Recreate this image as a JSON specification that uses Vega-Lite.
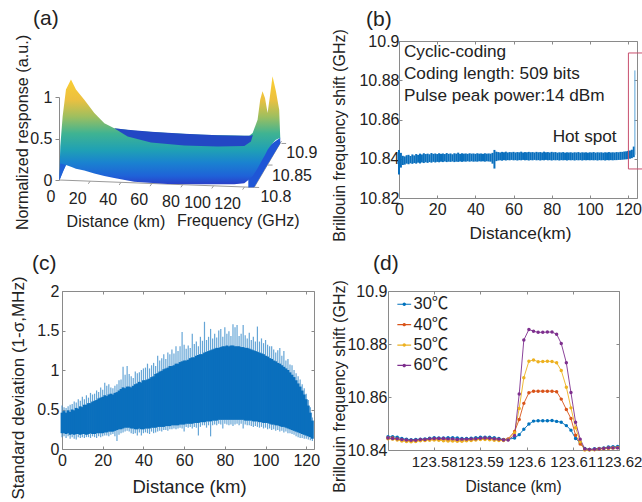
{
"$schema":"https://vega.github.io/schema/vega-lite/v6.json",
"padding":{"left":8,"top":8,"right":0,"bottom":0},
"background":"white",
"bounds":"flush",
"spacing":250,
"config":{"font":"Liberation Sans","view":{"stroke":"#8a8a8a","strokeWidth":1},
"axis":{"grid":false,"labelColor":"#222","titleColor":"#222","domainColor":"#8a8a8a","tickColor":"#8a8a8a","titleFontWeight":"normal","labelFontSize":16,"titleFontSize":16,"labelOverlap":false,"labelFlush":false,"labelBound":false,"tickSize":-3,"domain":false},
"title":{"fontWeight":"normal","fontSize":21,"color":"#222","anchor":"start","frame":"group"},
"text":{"color":"#222"}},
"datasets":{
"front":[{"u":0,"hi":0,"lo":0},{"u":0.65,"hi":0.403,"lo":0.02},{"u":2.16,"hi":0.766,"lo":0.1},{"u":4.32,"hi":1.089,"lo":0.181},{"u":7.56,"hi":1.21,"lo":0.161},{"u":10.8,"hi":1.089,"lo":0.137},{"u":16.2,"hi":0.968,"lo":0.113},{"u":22.7,"hi":0.806,"lo":0.077},{"u":29.2,"hi":0.685,"lo":0.048},{"u":35.6,"hi":0.625,"lo":0.024},{"u":48.6,"hi":0.593,"lo":-0.02},{"u":70.2,"hi":0.565,"lo":-0.048},{"u":91.8,"hi":0.544,"lo":-0.052},{"u":113.4,"hi":0.536,"lo":-0.052},{"u":119.9,"hi":0.532,"lo":-0.04},{"u":123.1,"hi":0.532,"lo":0.008},{"u":125.3,"hi":0.565,"lo":0.048},{"u":128.5,"hi":0.726,"lo":0.141},{"u":130.2,"hi":0.968,"lo":0.2},{"u":131.7,"hi":1.069,"lo":0.25},{"u":133.3,"hi":0.988,"lo":0.302},{"u":135,"hi":0.806,"lo":0.363},{"u":136.5,"hi":1.008,"lo":0.403},{"u":138.2,"hi":1.25,"lo":0.444},{"u":140.4,"hi":1.069,"lo":0.484},{"u":142.5,"hi":0.847,"lo":0.504},{"u":143.2,"hi":0.504,"lo":0.504}],
"ribbon":[{"u":35.6,"hi":0.625,"lo":0.625},{"u":44.3,"hi":0.605,"lo":0.524},{"u":59.4,"hi":0.581,"lo":0.452},{"u":81,"hi":0.556,"lo":0.415},{"u":102.6,"hi":0.54,"lo":0.403},{"u":119.9,"hi":0.532,"lo":0.411},{"u":124.2,"hi":0.532,"lo":0.464},{"u":125.3,"hi":0.544,"lo":0.532}],
"slab":[{"u":122.5,"hi":0.04,"lo":-0.089},{"u":126.3,"hi":0.1,"lo":-0.0887},{"u":135,"hi":0.4,"lo":0.186},{"u":143.2,"hi":0.51,"lo":0.44}],
"side":[{"u":0,"hi":0,"lo":0},{"u":0.65,"hi":0.2,"lo":0.02},{"u":4.32,"hi":0.181,"lo":0.181}],
"alines":[{"u":0,"u2":126.3,"v":0,"v2":-0.0887},{"u":126.3,"u2":144,"v":-0.0887,"v2":0.47},{"u":20,"u2":18.8,"v":-0.014,"v2":-0.046},{"u":40,"u2":38.8,"v":-0.028,"v2":-0.06},{"u":60,"u2":58.8,"v":-0.042,"v2":-0.074},{"u":80,"u2":78.8,"v":-0.056,"v2":-0.088},{"u":100,"u2":98.8,"v":-0.07,"v2":-0.102},{"u":120,"u2":118.8,"v":-0.084,"v2":-0.116},{"u":126.3,"u2":129.5,"v":-0.0887,"v2":-0.09},{"u":135,"u2":138.2,"v":0.18,"v2":0.18},{"u":144,"u2":147,"v":0.44,"v2":0.44}],
"atext":[{"u":-5.4,"v":-0.2016,"t":"0"},{"u":11.9,"v":-0.23,"t":"20"},{"u":31.7,"v":-0.238,"t":"40"},{"u":51.8,"v":-0.246,"t":"60"},{"u":72.4,"v":-0.262,"t":"80"},{"u":89.6,"v":-0.274,"t":"100"},{"u":109.1,"v":-0.29,"t":"120"},{"u":140.4,"v":-0.21,"t":"10.8"},{"u":150.8,"v":0.048,"t":"10.85"},{"u":157.2,"v":0.323,"t":"10.9"},{"u":36.7,"v":-0.504,"t":"Distance (km)"},{"u":116,"v":-0.492,"t":"Frequency (GHz)"}],
"b":[{"d":0,"lo":10.832,"hi":10.8445},{"d":1,"lo":10.8355,"hi":10.843},{"d":2,"lo":10.8368,"hi":10.8415},{"d":3,"lo":10.837,"hi":10.8412},{"d":4,"lo":10.8375,"hi":10.8418},{"d":5,"lo":10.8372,"hi":10.842},{"d":6,"lo":10.8377,"hi":10.8414},{"d":7,"lo":10.8374,"hi":10.8422},{"d":8,"lo":10.8378,"hi":10.8417},{"d":9,"lo":10.8375,"hi":10.8424},{"d":10,"lo":10.838,"hi":10.842},{"d":11,"lo":10.8376,"hi":10.8426},{"d":12,"lo":10.8381,"hi":10.8422},{"d":13,"lo":10.8378,"hi":10.8428},{"d":14,"lo":10.8382,"hi":10.8424},{"d":15,"lo":10.8379,"hi":10.8426},{"d":16,"lo":10.8383,"hi":10.8423},{"d":17,"lo":10.838,"hi":10.8429},{"d":18,"lo":10.8384,"hi":10.8425},{"d":19,"lo":10.8381,"hi":10.8427},{"d":20,"lo":10.8384,"hi":10.8424},{"d":21,"lo":10.8382,"hi":10.8428},{"d":22,"lo":10.8385,"hi":10.8425},{"d":23,"lo":10.8383,"hi":10.8427},{"d":24,"lo":10.8386,"hi":10.8424},{"d":25,"lo":10.8383,"hi":10.8429},{"d":26,"lo":10.8385,"hi":10.8425},{"d":27,"lo":10.8384,"hi":10.8427},{"d":28,"lo":10.8386,"hi":10.8423},{"d":29,"lo":10.8383,"hi":10.8428},{"d":30,"lo":10.8385,"hi":10.8426},{"d":31,"lo":10.8384,"hi":10.8431},{"d":32,"lo":10.8386,"hi":10.8425},{"d":33,"lo":10.8384,"hi":10.8428},{"d":34,"lo":10.8386,"hi":10.8426},{"d":35,"lo":10.8385,"hi":10.8427},{"d":36,"lo":10.8387,"hi":10.8425},{"d":37,"lo":10.8385,"hi":10.8428},{"d":38,"lo":10.8387,"hi":10.8426},{"d":39,"lo":10.8385,"hi":10.8427},{"d":40,"lo":10.8386,"hi":10.8425},{"d":41,"lo":10.8385,"hi":10.8428},{"d":42,"lo":10.8387,"hi":10.8426},{"d":43,"lo":10.8386,"hi":10.8427},{"d":44,"lo":10.8387,"hi":10.8425},{"d":45,"lo":10.8385,"hi":10.8428},{"d":46,"lo":10.8387,"hi":10.8426},{"d":47,"lo":10.8386,"hi":10.8427},{"d":48,"lo":10.8385,"hi":10.8426},{"d":49,"lo":10.8375,"hi":10.843},{"d":50,"lo":10.835,"hi":10.8445},{"d":51,"lo":10.8388,"hi":10.8436},{"d":52,"lo":10.8391,"hi":10.8434},{"d":53,"lo":10.8392,"hi":10.8432},{"d":54,"lo":10.839,"hi":10.8435},{"d":55,"lo":10.8393,"hi":10.8433},{"d":56,"lo":10.8391,"hi":10.8436},{"d":57,"lo":10.8393,"hi":10.8432},{"d":58,"lo":10.8392,"hi":10.8434},{"d":59,"lo":10.8394,"hi":10.8433},{"d":60,"lo":10.8392,"hi":10.8435},{"d":61,"lo":10.8393,"hi":10.8432},{"d":62,"lo":10.8391,"hi":10.8434},{"d":63,"lo":10.8393,"hi":10.8433},{"d":64,"lo":10.8392,"hi":10.8436},{"d":65,"lo":10.8394,"hi":10.8432},{"d":66,"lo":10.8392,"hi":10.8434},{"d":67,"lo":10.8393,"hi":10.8433},{"d":68,"lo":10.8391,"hi":10.8435},{"d":69,"lo":10.8393,"hi":10.8433},{"d":70,"lo":10.8392,"hi":10.8434},{"d":71,"lo":10.8394,"hi":10.8432},{"d":72,"lo":10.8392,"hi":10.8435},{"d":73,"lo":10.8393,"hi":10.8433},{"d":74,"lo":10.8391,"hi":10.8434},{"d":75,"lo":10.8393,"hi":10.8432},{"d":76,"lo":10.8392,"hi":10.8436},{"d":77,"lo":10.8394,"hi":10.8433},{"d":78,"lo":10.8392,"hi":10.8434},{"d":79,"lo":10.8393,"hi":10.8432},{"d":80,"lo":10.8391,"hi":10.8435},{"d":81,"lo":10.8393,"hi":10.8433},{"d":82,"lo":10.8392,"hi":10.8434},{"d":83,"lo":10.8393,"hi":10.8431},{"d":84,"lo":10.8391,"hi":10.8433},{"d":85,"lo":10.8393,"hi":10.8432},{"d":86,"lo":10.8392,"hi":10.8434},{"d":87,"lo":10.8393,"hi":10.8431},{"d":88,"lo":10.8391,"hi":10.8433},{"d":89,"lo":10.8393,"hi":10.8432},{"d":90,"lo":10.8392,"hi":10.8433},{"d":91,"lo":10.8393,"hi":10.8431},{"d":92,"lo":10.8391,"hi":10.8433},{"d":93,"lo":10.8393,"hi":10.8432},{"d":94,"lo":10.8392,"hi":10.8434},{"d":95,"lo":10.8393,"hi":10.8431},{"d":96,"lo":10.8391,"hi":10.8433},{"d":97,"lo":10.8393,"hi":10.8432},{"d":98,"lo":10.8392,"hi":10.8433},{"d":99,"lo":10.8393,"hi":10.8431},{"d":100,"lo":10.8392,"hi":10.8433},{"d":101,"lo":10.8393,"hi":10.8432},{"d":102,"lo":10.8392,"hi":10.8434},{"d":103,"lo":10.8393,"hi":10.8431},{"d":104,"lo":10.8391,"hi":10.8433},{"d":105,"lo":10.8393,"hi":10.8432},{"d":106,"lo":10.8392,"hi":10.8433},{"d":107,"lo":10.8393,"hi":10.8431},{"d":108,"lo":10.8391,"hi":10.8433},{"d":109,"lo":10.8393,"hi":10.8432},{"d":110,"lo":10.8392,"hi":10.8434},{"d":111,"lo":10.8393,"hi":10.8432},{"d":112,"lo":10.8392,"hi":10.8433},{"d":113,"lo":10.8393,"hi":10.8432},{"d":114,"lo":10.8393,"hi":10.8434},{"d":115,"lo":10.8394,"hi":10.8433},{"d":116,"lo":10.8394,"hi":10.8435},{"d":117,"lo":10.8395,"hi":10.8435},{"d":118,"lo":10.8396,"hi":10.8437},{"d":119,"lo":10.8397,"hi":10.8438},{"d":120,"lo":10.8398,"hi":10.844},{"d":121,"lo":10.84,"hi":10.8442},{"d":122,"lo":10.8403,"hi":10.8446},{"d":123,"lo":10.8408,"hi":10.8462}],
"bspike":[{"d":123.6,"lo":10.842,"hi":10.885}],
"box":[{"x1":120.2,"x2":127.9,"y1":10.8348,"y2":10.8939}],
"btext":[{"x":2.6,"y":10.8918,"t":"Cyclic-coding"},{"x":2.6,"y":10.8806,"t":"Coding length: 509 bits"},{"x":2.6,"y":10.8694,"t":"Pulse peak power:14 dBm"},{"x":80.5,"y":10.8485,"t":"Hot spot"}],
"c":[{"d":0,"lo":0.2,"hi":0.46,"slo":0.15,"shi":0.55},{"d":1,"lo":0.2,"hi":0.48,"slo":0.16,"shi":0.53},{"d":2,"lo":0.19,"hi":0.46,"slo":0.14,"shi":0.52},{"d":3,"lo":0.2,"hi":0.49,"slo":0.16,"shi":0.54},{"d":4,"lo":0.18,"hi":0.47,"slo":0.13,"shi":0.56},{"d":5,"lo":0.19,"hi":0.5,"slo":0.15,"shi":0.57},{"d":6,"lo":0.18,"hi":0.49,"slo":0.13,"shi":0.6},{"d":7,"lo":0.19,"hi":0.52,"slo":0.12,"shi":0.59},{"d":8,"lo":0.19,"hi":0.51,"slo":0.15,"shi":0.63},{"d":9,"lo":0.18,"hi":0.54,"slo":0.14,"shi":0.61},{"d":10,"lo":0.19,"hi":0.53,"slo":0.15,"shi":0.66},{"d":11,"lo":0.19,"hi":0.56,"slo":0.14,"shi":0.63},{"d":12,"lo":0.18,"hi":0.56,"slo":0.15,"shi":0.68},{"d":13,"lo":0.19,"hi":0.58,"slo":0.15,"shi":0.65},{"d":14,"lo":0.2,"hi":0.58,"slo":0.14,"shi":0.71},{"d":15,"lo":0.19,"hi":0.6,"slo":0.16,"shi":0.69},{"d":16,"lo":0.19,"hi":0.61,"slo":0.15,"shi":0.7},{"d":17,"lo":0.2,"hi":0.62,"slo":0.14,"shi":0.74},{"d":18,"lo":0.2,"hi":0.64,"slo":0.16,"shi":0.72},{"d":19,"lo":0.2,"hi":0.65,"slo":0.15,"shi":0.78},{"d":20,"lo":0.2,"hi":0.66,"slo":0.16,"shi":0.75},{"d":21,"lo":0.21,"hi":0.68,"slo":0.17,"shi":0.84},{"d":22,"lo":0.21,"hi":0.67,"slo":0.17,"shi":0.8},{"d":23,"lo":0.22,"hi":0.69,"slo":0.16,"shi":0.82},{"d":24,"lo":0.22,"hi":0.7,"slo":0.18,"shi":0.78},{"d":25,"lo":0.22,"hi":0.69,"slo":0.19,"shi":0.77},{"d":26,"lo":0.23,"hi":0.71,"slo":0.16,"shi":0.8},{"d":27,"lo":0.24,"hi":0.72,"slo":0.1,"shi":0.82},{"d":28,"lo":0.25,"hi":0.74,"slo":0.18,"shi":0.87},{"d":29,"lo":0.25,"hi":0.76,"slo":0.2,"shi":0.88},{"d":30,"lo":0.26,"hi":0.78,"slo":0.21,"shi":1.04},{"d":31,"lo":0.27,"hi":0.77,"slo":0.22,"shi":0.94},{"d":32,"lo":0.27,"hi":0.79,"slo":0.23,"shi":1.05},{"d":33,"lo":0.27,"hi":0.79,"slo":0.22,"shi":0.95},{"d":34,"lo":0.26,"hi":0.78,"slo":0.2,"shi":0.92},{"d":35,"lo":0.26,"hi":0.8,"slo":0.19,"shi":0.9},{"d":36,"lo":0.25,"hi":0.82,"slo":0.2,"shi":0.98},{"d":37,"lo":0.25,"hi":0.83,"slo":0.17,"shi":0.96},{"d":38,"lo":0.26,"hi":0.85,"slo":0.21,"shi":0.97},{"d":39,"lo":0.25,"hi":0.84,"slo":0.17,"shi":1},{"d":40,"lo":0.25,"hi":0.87,"slo":0.2,"shi":1.02},{"d":41,"lo":0.26,"hi":0.87,"slo":0.21,"shi":1.03},{"d":42,"lo":0.26,"hi":0.88,"slo":0.2,"shi":1.08},{"d":43,"lo":0.26,"hi":0.89,"slo":0.19,"shi":1.02},{"d":44,"lo":0.27,"hi":0.91,"slo":0.22,"shi":1.06},{"d":45,"lo":0.27,"hi":0.92,"slo":0.2,"shi":1.09},{"d":46,"lo":0.27,"hi":0.95,"slo":0.21,"shi":1.05},{"d":47,"lo":0.28,"hi":0.96,"slo":0.22,"shi":1.18},{"d":48,"lo":0.28,"hi":0.98,"slo":0.23,"shi":1.12},{"d":49,"lo":0.28,"hi":0.99,"slo":0.22,"shi":1.15},{"d":50,"lo":0.28,"hi":1.01,"slo":0.24,"shi":1.2},{"d":51,"lo":0.29,"hi":1.02,"slo":0.24,"shi":1.14},{"d":52,"lo":0.29,"hi":1.03,"slo":0.23,"shi":1.22},{"d":53,"lo":0.29,"hi":1.05,"slo":0.25,"shi":1.2},{"d":54,"lo":0.3,"hi":1.05,"slo":0.25,"shi":1.26},{"d":55,"lo":0.3,"hi":1.06,"slo":0.26,"shi":1.21},{"d":56,"lo":0.3,"hi":1.08,"slo":0.25,"shi":1.3},{"d":57,"lo":0.3,"hi":1.08,"slo":0.26,"shi":1.24},{"d":58,"lo":0.31,"hi":1.1,"slo":0.27,"shi":1.3},{"d":59,"lo":0.31,"hi":1.11,"slo":0.26,"shi":1.48},{"d":60,"lo":0.31,"hi":1.12,"slo":0.22,"shi":1.32},{"d":61,"lo":0.32,"hi":1.12,"slo":0.28,"shi":1.27},{"d":62,"lo":0.32,"hi":1.13,"slo":0.27,"shi":1.31},{"d":63,"lo":0.32,"hi":1.15,"slo":0.28,"shi":1.28},{"d":64,"lo":0.32,"hi":1.16,"slo":0.26,"shi":1.46},{"d":65,"lo":0.33,"hi":1.16,"slo":0.28,"shi":1.33},{"d":66,"lo":0.33,"hi":1.18,"slo":0.27,"shi":1.36},{"d":67,"lo":0.33,"hi":1.19,"slo":0.17,"shi":1.3},{"d":68,"lo":0.34,"hi":1.2,"slo":0.28,"shi":1.42},{"d":69,"lo":0.34,"hi":1.2,"slo":0.3,"shi":1.37},{"d":70,"lo":0.34,"hi":1.22,"slo":0.3,"shi":1.61},{"d":71,"lo":0.35,"hi":1.23,"slo":0.27,"shi":1.38},{"d":72,"lo":0.35,"hi":1.24,"slo":0.3,"shi":1.42},{"d":73,"lo":0.35,"hi":1.25,"slo":0.16,"shi":1.52},{"d":74,"lo":0.36,"hi":1.26,"slo":0.3,"shi":1.4},{"d":75,"lo":0.36,"hi":1.27,"slo":0.31,"shi":1.46},{"d":76,"lo":0.36,"hi":1.28,"slo":0.3,"shi":1.41},{"d":77,"lo":0.37,"hi":1.28,"slo":0.32,"shi":1.5},{"d":78,"lo":0.37,"hi":1.29,"slo":0.31,"shi":1.52},{"d":79,"lo":0.37,"hi":1.3,"slo":0.26,"shi":1.42},{"d":80,"lo":0.37,"hi":1.3,"slo":0.32,"shi":1.54},{"d":81,"lo":0.37,"hi":1.31,"slo":0.31,"shi":1.46},{"d":82,"lo":0.37,"hi":1.3,"slo":0.3,"shi":1.49},{"d":83,"lo":0.37,"hi":1.31,"slo":0.31,"shi":1.43},{"d":84,"lo":0.37,"hi":1.31,"slo":0.29,"shi":1.58},{"d":85,"lo":0.37,"hi":1.3,"slo":0.31,"shi":1.54},{"d":86,"lo":0.37,"hi":1.3,"slo":0.32,"shi":1.57},{"d":87,"lo":0.37,"hi":1.3,"slo":0.3,"shi":1.43},{"d":88,"lo":0.37,"hi":1.29,"slo":0.32,"shi":1.46},{"d":89,"lo":0.37,"hi":1.29,"slo":0.26,"shi":1.57},{"d":90,"lo":0.36,"hi":1.28,"slo":0.31,"shi":1.44},{"d":91,"lo":0.36,"hi":1.28,"slo":0.3,"shi":1.4},{"d":92,"lo":0.36,"hi":1.27,"slo":0.3,"shi":1.47},{"d":93,"lo":0.36,"hi":1.26,"slo":0.29,"shi":1.38},{"d":94,"lo":0.35,"hi":1.25,"slo":0.28,"shi":1.42},{"d":95,"lo":0.35,"hi":1.24,"slo":0.29,"shi":1.36},{"d":96,"lo":0.35,"hi":1.23,"slo":0.28,"shi":1.55},{"d":97,"lo":0.34,"hi":1.22,"slo":0.27,"shi":1.36},{"d":98,"lo":0.34,"hi":1.21,"slo":0.28,"shi":1.4},{"d":99,"lo":0.33,"hi":1.2,"slo":0.26,"shi":1.34},{"d":100,"lo":0.33,"hi":1.18,"slo":0.27,"shi":1.38},{"d":101,"lo":0.33,"hi":1.17,"slo":0.25,"shi":1.32},{"d":102,"lo":0.32,"hi":1.15,"slo":0.26,"shi":1.3},{"d":103,"lo":0.31,"hi":1.14,"slo":0.24,"shi":1.3},{"d":104,"lo":0.31,"hi":1.12,"slo":0.25,"shi":1.26},{"d":105,"lo":0.3,"hi":1.11,"slo":0.23,"shi":1.22},{"d":106,"lo":0.3,"hi":1.09,"slo":0.24,"shi":1.25},{"d":107,"lo":0.29,"hi":1.08,"slo":0.22,"shi":1.28},{"d":108,"lo":0.28,"hi":1.06,"slo":0.23,"shi":1.18},{"d":109,"lo":0.28,"hi":1.04,"slo":0.21,"shi":1.24},{"d":110,"lo":0.27,"hi":1.02,"slo":0.22,"shi":1.12},{"d":111,"lo":0.26,"hi":1,"slo":0.2,"shi":1.14},{"d":112,"lo":0.25,"hi":0.97,"slo":0.2,"shi":1.07},{"d":113,"lo":0.24,"hi":0.94,"slo":0.19,"shi":1.06},{"d":114,"lo":0.23,"hi":0.91,"slo":0.18,"shi":1},{"d":115,"lo":0.22,"hi":0.87,"slo":0.16,"shi":0.96},{"d":116,"lo":0.21,"hi":0.83,"slo":0.15,"shi":0.92},{"d":117,"lo":0.2,"hi":0.79,"slo":0.14,"shi":0.88},{"d":118,"lo":0.19,"hi":0.74,"slo":0.14,"shi":0.82},{"d":119,"lo":0.18,"hi":0.69,"slo":0.13,"shi":0.77},{"d":120,"lo":0.17,"hi":0.63,"slo":0.13,"shi":0.7},{"d":121,"lo":0.16,"hi":0.55,"slo":0.12,"shi":0.62},{"d":122,"lo":0.15,"hi":0.46,"slo":0.11,"shi":0.53},{"d":123,"lo":0.13,"hi":0.36,"slo":0.1,"shi":0.4}],
"d":[
{"x":123.57,"a":10.845,"b":10.8445,"c":10.8442,"e":10.8445},{"x":123.571,"a":10.845,"b":10.8445,"c":10.8441,"e":10.8443},{"x":123.572,"a":10.8448,"b":10.8442,"c":10.8438,"e":10.8442},{"x":123.573,"a":10.8443,"b":10.8438,"c":10.8434,"e":10.844},{"x":123.574,"a":10.8441,"b":10.8436,"c":10.8432,"e":10.8438},{"x":123.575,"a":10.8439,"b":10.8435,"c":10.8431,"e":10.8437},{"x":123.576,"a":10.844,"b":10.8436,"c":10.8432,"e":10.8437},{"x":123.577,"a":10.8441,"b":10.8438,"c":10.8435,"e":10.844},{"x":123.578,"a":10.8442,"b":10.8438,"c":10.8436,"e":10.844},{"x":123.579,"a":10.8444,"b":10.8441,"c":10.8437,"e":10.8442},{"x":123.58,"a":10.8446,"b":10.8441,"c":10.8438,"e":10.8443},{"x":123.581,"a":10.8445,"b":10.8441,"c":10.8437,"e":10.8443},{"x":123.582,"a":10.8445,"b":10.844,"c":10.8435,"e":10.8443},{"x":123.583,"a":10.8446,"b":10.8438,"c":10.8434,"e":10.8442},{"x":123.584,"a":10.8446,"b":10.8438,"c":10.8434,"e":10.8442},{"x":123.585,"a":10.8445,"b":10.8437,"c":10.8433,"e":10.844},{"x":123.586,"a":10.8443,"b":10.8437,"c":10.8433,"e":10.8441},{"x":123.587,"a":10.8443,"b":10.8439,"c":10.8435,"e":10.8441},{"x":123.588,"a":10.8444,"b":10.8439,"c":10.8436,"e":10.8442},{"x":123.589,"a":10.8446,"b":10.8441,"c":10.8438,"e":10.8442},{"x":123.59,"a":10.8448,"b":10.8442,"c":10.844,"e":10.8444},{"x":123.591,"a":10.8448,"b":10.8443,"c":10.844,"e":10.8445},{"x":123.592,"a":10.8448,"b":10.8443,"c":10.8439,"e":10.8444},{"x":123.593,"a":10.8446,"b":10.8441,"c":10.8437,"e":10.8442},{"x":123.594,"a":10.8443,"b":10.844,"c":10.8436,"e":10.8441},{"x":123.595,"a":10.844,"b":10.8439,"c":10.8436,"e":10.8438},{"x":123.596,"a":10.844,"b":10.8442,"c":10.844,"e":10.8438},{"x":123.5974,"a":10.8445,"b":10.847,"c":10.8465,"e":10.8455},{"x":123.5984,"a":10.8458,"b":10.8515,"c":10.8557,"e":10.8611},{"x":123.5994,"a":10.8478,"b":10.8576,"c":10.8673,"e":10.8815},{"x":123.6005,"a":10.8498,"b":10.8616,"c":10.8735,"e":10.8855},{"x":123.6015,"a":10.8509,"b":10.8622,"c":10.874,"e":10.8848},{"x":123.6025,"a":10.851,"b":10.8622,"c":10.8733,"e":10.8844},{"x":123.6035,"a":10.851,"b":10.8622,"c":10.8734,"e":10.8844},{"x":123.6045,"a":10.851,"b":10.8622,"c":10.8735,"e":10.8845},{"x":123.6055,"a":10.8511,"b":10.8622,"c":10.8734,"e":10.8845},{"x":123.6065,"a":10.8508,"b":10.862,"c":10.8729,"e":10.8837},{"x":123.6075,"a":10.8505,"b":10.8592,"c":10.87,"e":10.8802},{"x":123.6086,"a":10.8492,"b":10.8553,"c":10.8637,"e":10.8729},{"x":123.6096,"a":10.8475,"b":10.8519,"c":10.8559,"e":10.8617},{"x":123.6106,"a":10.8443,"b":10.8456,"c":10.8484,"e":10.8505},{"x":123.6116,"a":10.8428,"b":10.8423,"c":10.8431,"e":10.8441},{"x":123.6126,"a":10.8406,"b":10.8403,"c":10.84,"e":10.8404},{"x":123.6136,"a":10.8402,"b":10.8402,"c":10.84,"e":10.8402},{"x":123.6147,"a":10.8405,"b":10.8402,"c":10.8401,"e":10.8403},{"x":123.6157,"a":10.8406,"b":10.8405,"c":10.8403,"e":10.8404},{"x":123.6167,"a":10.8408,"b":10.8406,"c":10.8405,"e":10.8406},{"x":123.6177,"a":10.8411,"b":10.8407,"c":10.8407,"e":10.8408},{"x":123.6187,"a":10.8412,"b":10.8408,"c":10.8408,"e":10.8408},{"x":123.6197,"a":10.8413,"b":10.8409,"c":10.8409,"e":10.8408}]
},
"vconcat":[
{"hconcat":[
{"width":260,"height":157,"view":{"stroke":null},
"title":{"text":"(a)","dx":-29,"offset":5},
"layer":[
{"data":{"name":"alines"},"mark":{"type":"rule","color":"#9a9a9a","strokeWidth":1},
"encoding":{"x":{"field":"u","type":"quantitative","scale":{"domain":[1.75,170.25],"zero":false,"nice":false},"axis":null},"x2":{"field":"u2"},
"y":{"field":"v","type":"quantitative","scale":{"domain":[0,1],"range":[139,56],"zero":false,"nice":false},
"axis":{"values":[0,0.5,1],"format":"~g","offset":3,"domain":true,"tickSize":4,"labelPadding":3,"title":"Normalized response (a.u.)","titleAngle":-90,"titleAlign":"center","titleBaseline":"middle","titleFontSize":16.2,"titleX":-37,"titleY":91}},"y2":{"field":"v2"}}},
{"data":{"name":"slab"},"mark":{"type":"area","color":"#1f56d6"},"encoding":{"x":{"field":"u","type":"quantitative"},"y":{"field":"hi","type":"quantitative"},"y2":{"field":"lo"}}},
{"data":{"name":"front"},"mark":{"type":"area","color":{"gradient":"linear","x1":0,"y1":1,"x2":0,"y2":0,"stops":[{"offset":0,"color":"#2a3fc8"},{"offset":0.077,"color":"#1f62d8"},{"offset":0.2,"color":"#1a82d0"},{"offset":0.315,"color":"#1fa0b5"},{"offset":0.47,"color":"#3fb392"},{"offset":0.63,"color":"#a0bf5e"},{"offset":0.785,"color":"#ecc040"},{"offset":1,"color":"#fcd030"}]}},"encoding":{"x":{"field":"u","type":"quantitative"},"y":{"field":"hi","type":"quantitative"},"y2":{"field":"lo"}}},
{"data":{"name":"side"},"mark":{"type":"area","color":"#1f62d8"},"encoding":{"x":{"field":"u","type":"quantitative"},"y":{"field":"hi","type":"quantitative"},"y2":{"field":"lo"}}},
{"data":{"name":"ribbon"},"mark":{"type":"area","color":"#2347c4"},"encoding":{"x":{"field":"u","type":"quantitative"},"y":{"field":"hi","type":"quantitative"},"y2":{"field":"lo"}}},
{"data":{"name":"atext"},"mark":{"type":"text","fontSize":16,"align":"center","baseline":"middle"},"encoding":{"x":{"field":"u","type":"quantitative"},"y":{"field":"v","type":"quantitative"},"text":{"field":"t"}}}
]},
{"width":238,"height":157,
"title":{"text":"(b)","dx":-33,"offset":-1},
"layer":[
{"data":{"name":"b"},"mark":{"type":"rule","color":"#0a6fbd","strokeWidth":2},
"encoding":{"x":{"field":"d","type":"quantitative","scale":{"domain":[0,124.7],"nice":false,"zero":false},"axis":{"values":[0,20,40,60,80,100,120],"labelPadding":6,"title":"Distance(km)","titleFontSize":17.3,"titleX":121,"titleY":35,"titleAlign":"center","titleBaseline":"middle"}},
"y":{"field":"lo","type":"quantitative","scale":{"domain":[10.82,10.9],"nice":false,"zero":false},"axis":{"values":[10.82,10.84,10.86,10.88,10.9],"format":"~g","labelPadding":3,"title":"Brillouin frequency shift (GHz)","titleAngle":-90,"titleX":-60,"titleY":94,"titleAlign":"center","titleBaseline":"middle"}},"y2":{"field":"hi"}}},
{"data":{"name":"bspike"},"mark":{"type":"rule","color":"#5aa3d8","strokeWidth":1},"encoding":{"x":{"field":"d","type":"quantitative","axis":null},"y":{"field":"lo","type":"quantitative","axis":null},"y2":{"field":"hi"}}},
{"data":{"name":"box"},"mark":{"type":"rect","fillOpacity":0,"stroke":"#c9506e","strokeWidth":1},"encoding":{"x":{"field":"x1","type":"quantitative","axis":{"orient":"top","values":[0,20,40,60,80,100,120],"labels":false,"title":null}},"x2":{"field":"x2"},"y":{"field":"y1","type":"quantitative","axis":{"orient":"right","values":[10.82,10.84,10.86,10.88,10.9],"labels":false,"title":null}},"y2":{"field":"y2"}}},
{"data":{"name":"btext"},"mark":{"type":"text","fontSize":17.2,"align":"left","baseline":"alphabetic"},"encoding":{"x":{"field":"x","type":"quantitative","axis":null},"y":{"field":"y","type":"quantitative","axis":null},"text":{"field":"t"}}}
],
"resolve":{"axis":{"x":"independent","y":"independent"}}}
],"spacing":77,"bounds":"flush"},
{"hconcat":[
{"width":252,"height":158,
"title":{"text":"(c)","dx":-30,"offset":2},
"layer":[
{"data":{"name":"c"},"mark":{"type":"rule","color":"#3f8fcc","strokeWidth":1.2,"opacity":0.8},
"encoding":{"x":{"field":"d","type":"quantitative","scale":{"domain":[0,123.8],"nice":false,"zero":false},"axis":{"values":[0,20,40,60,80,100,120],"labelPadding":6,"title":"Distance (km)","titleFontSize":18.5,"titleX":127,"titleY":37,"titleAlign":"center","titleBaseline":"middle"}},
"y":{"field":"slo","type":"quantitative","scale":{"domain":[0,2],"nice":false,"zero":false},"axis":{"values":[0,0.5,1,1.5,2],"format":"~g","labelPadding":6,"title":"Standard deviation (1-σ,MHz)","titleFontSize":17,"titleAngle":-90,"titleX":-44,"titleY":96.5,"titleAlign":"center","titleBaseline":"middle"}},"y2":{"field":"shi"}}},
{"data":{"name":"c"},"mark":{"type":"rule","color":"#0a6fbd","strokeWidth":2.8},
"encoding":{"x":{"field":"d","type":"quantitative","axis":{"orient":"top","values":[0,20,40,60,80,100,120],"labels":false,"title":null}},"y":{"field":"lo","type":"quantitative","axis":{"orient":"right","values":[0,0.5,1,1.5,2],"labels":false,"title":null}},"y2":{"field":"hi"}}}
],
"resolve":{"axis":{"x":"independent","y":"independent"}}},
{"width":231,"height":159,
"title":{"text":"(d)","dx":-15,"offset":6},
"data":{"name":"d"},
"transform":[{"fold":["a","b","c","e"],"as":["k","v"]},{"calculate":"{a:'30℃',b:'40℃',c:'50℃',e:'60℃'}[datum.k]","as":"T"}],
"encoding":{"color":{"field":"T","type":"nominal","scale":{"domain":["30℃","40℃","50℃","60℃"],"range":["#0072BD","#D95319","#EDB120","#7E2F8E"]},
"legend":{"orient":"none","legendX":334,"legendY":255,"title":null,"labelFontSize":16.5,"labelColor":"#222","labelFont":"Liberation Sans, Noto Sans CJK SC","symbolType":"M-1,0H1M-0.16,0A0.16,0.16 0 1,0 0.16,0A0.16,0.16 0 1,0 -0.16,0Z","symbolSize":190,"symbolStrokeWidth":1.2,"rowPadding":3.4,"labelOffset":1}}},
"layer":[
{"mark":{"type":"line","strokeWidth":0.9},
"encoding":{"x":{"field":"x","type":"quantitative","scale":{"domain":[123.57,123.62],"nice":false,"zero":false},"axis":{"values":[123.58,123.59,123.6,123.61,123.62],"format":"~g","labelFontSize":15,"labelPadding":7,"title":"Distance (km)","titleFontSize":15.6,"titleX":125,"titleY":36,"titleAlign":"center","titleBaseline":"middle"}},
"y":{"field":"v","type":"quantitative","scale":{"domain":[10.84,10.9],"nice":false,"zero":false},"axis":{"values":[10.84,10.86,10.88,10.9],"format":"~g","labelPadding":4,"title":"Brillouin frequency shift (GHz)","titleAngle":-90,"titleX":-49,"titleY":95,"titleAlign":"center","titleBaseline":"middle"}}}},
{"mark":{"type":"point","filled":true,"size":12,"opacity":1},
"encoding":{"x":{"field":"x","type":"quantitative","axis":{"orient":"top","values":[123.58,123.59,123.6,123.61,123.62],"labels":false,"title":null}},"y":{"field":"v","type":"quantitative","axis":{"orient":"right","values":[10.84,10.86,10.88,10.9],"labels":false,"title":null}}}}
],
"resolve":{"axis":{"x":"independent","y":"independent"}}}
],"spacing":74,"bounds":"flush"}
]}
